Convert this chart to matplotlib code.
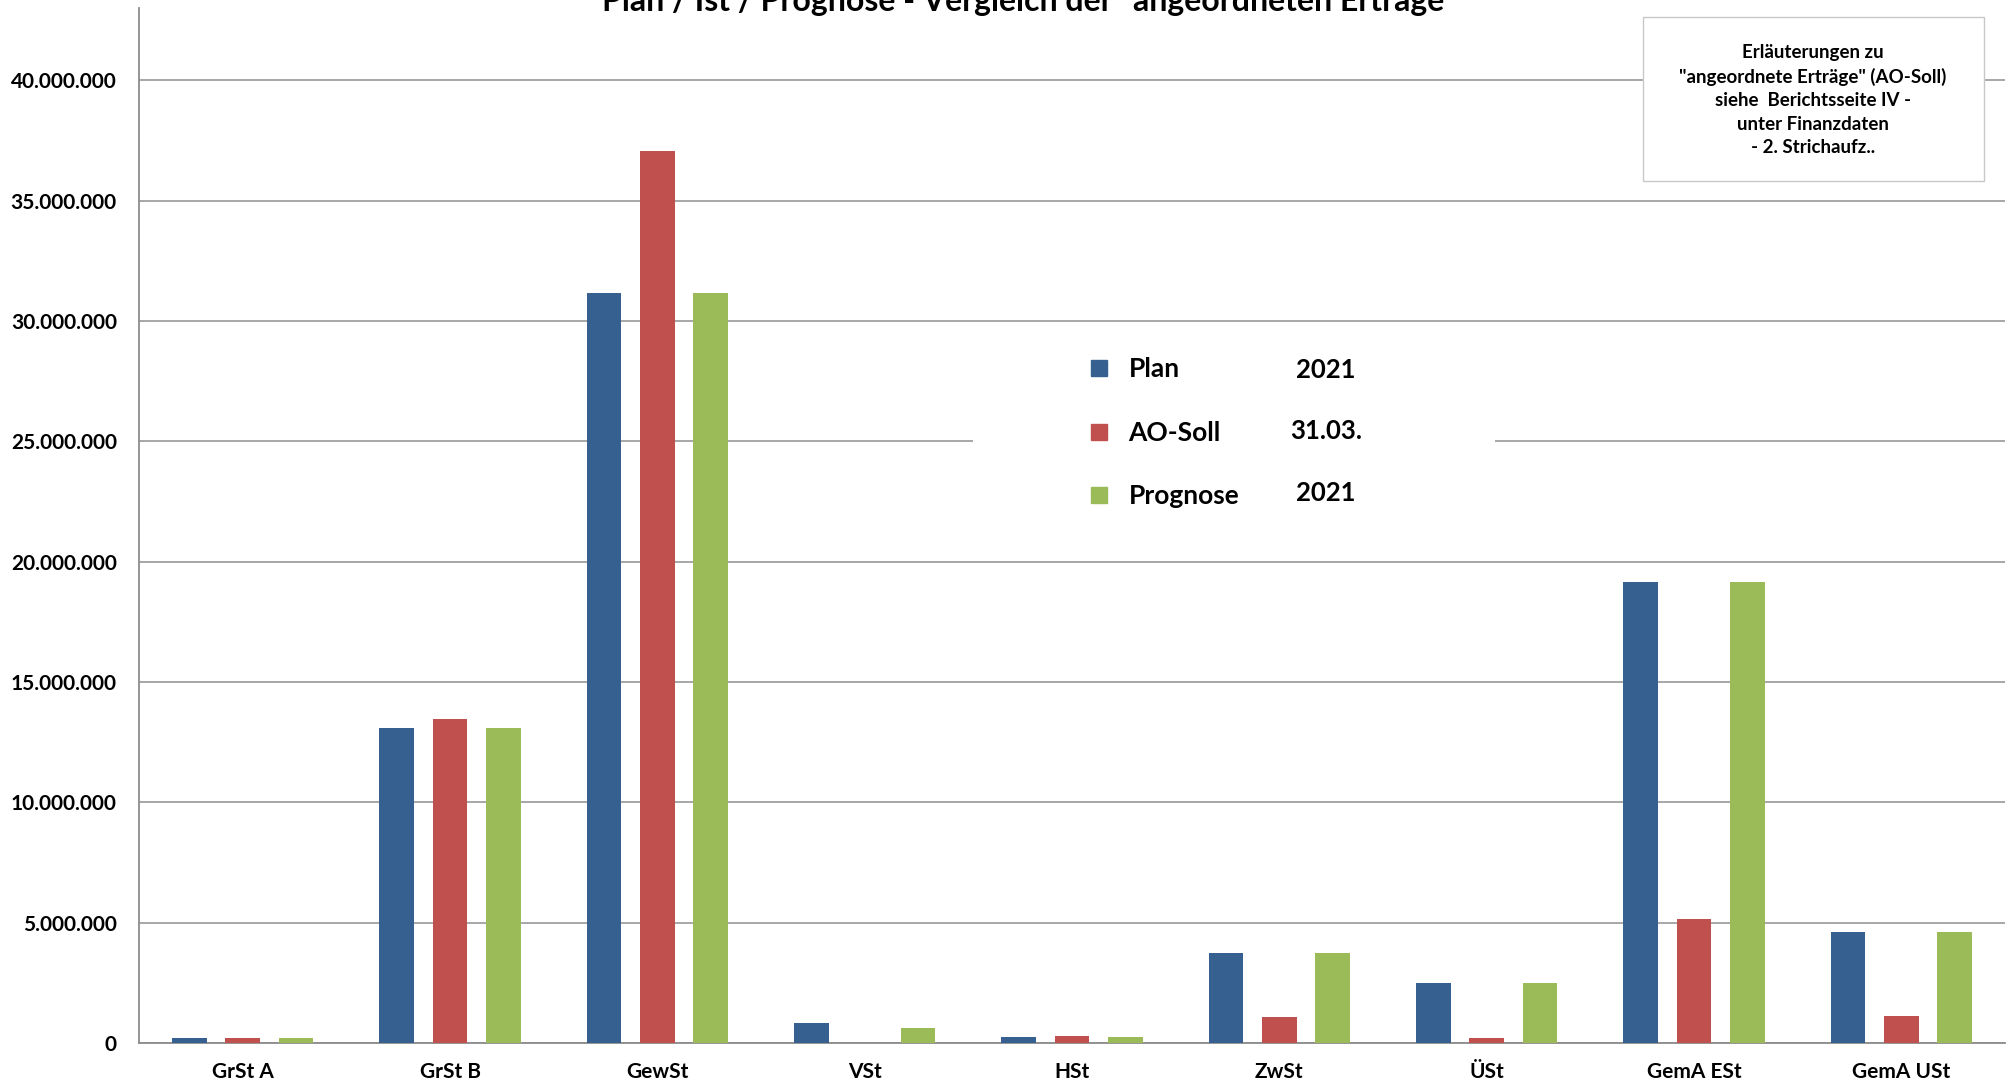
"""Plan / Ist / Prognose bar chart of the 'angeordnete Ertraege' per tax type."""
import matplotlib
matplotlib.use("Agg")
import matplotlib.pyplot as plt
from matplotlib.lines import Line2D
from matplotlib.patches import Rectangle
from matplotlib.ticker import FuncFormatter, MultipleLocator
import numpy as np

plt.rcParams["font.family"] = ["Lato", "DejaVu Sans"]
plt.rcParams["font.weight"] = "bold"

categories = ["GrSt A", "GrSt B", "GewSt", "VSt", "HSt", "ZwSt", "ÜSt", "GemA ESt", "GemA USt"]
plan = [220_000, 13_100_000, 31_150_000, 840_000, 260_000, 3_730_000, 2_490_000, 19_170_000, 4_630_000]
ao_soll = [220_000, 13_470_000, 37_060_000, 0, 280_000, 1_090_000, 210_000, 5_170_000, 1_130_000]
prognose = [220_000, 13_100_000, 31_150_000, 640_000, 250_000, 3_730_000, 2_500_000, 19_170_000, 4_630_000]

series_names = ["Plan", "AO-Soll", "Prognose"]
series_dates = ["2021", "31.03.", "2021"]
colors = ["#36608F", "#C0504E", "#9BBB59"]

title = 'Plan / Ist / Prognose - Vergleich der "angeordneten Erträge"'
note = ('Erläuterungen zu\n"angeordnete Erträge" (AO-Soll)\nsiehe  Berichtsseite IV -\n'
        'unter Finanzdaten\n- 2. Strichaufz..')

W, H = 2011, 1085
fig = plt.figure(figsize=(W / 100, H / 100), dpi=100)
ax = fig.add_axes([139 / W, 1 - 1043 / H, (2005 - 139) / W, (1043 - 8) / H])

x = np.arange(len(categories))
step, width = 0.257, 0.167
for i, (vals, col) in enumerate(zip([plan, ao_soll, prognose], colors)):
    ax.bar(x + (i - 1) * step, vals, width=width, color=col, zorder=3)

ax.set_xlim(-0.5, len(categories) - 0.5)
ax.set_ylim(0, 43_000_000)
ax.yaxis.set_major_locator(MultipleLocator(5_000_000))
ax.yaxis.set_major_formatter(FuncFormatter(lambda v, _: f"{int(v):,}".replace(",", ".")))
ax.set_xticks(x)
ax.set_xticklabels(categories, fontsize=15, fontweight="bold")
ax.tick_params(axis="y", length=0, pad=16, labelsize=15)
ax.tick_params(axis="x", length=0, pad=14)

ax.grid(axis="y", color="#a0a0a0", linewidth=1.3, zorder=0)
ax.set_axisbelow(True)
for side in ("top", "right"):
    ax.spines[side].set_visible(False)
for side in ("left", "bottom"):
    ax.spines[side].set_color("#8c8c8c")
    ax.spines[side].set_linewidth(1.3)

# white area behind the legend hides the gridline
ax.add_patch(Rectangle((973 / W, 1 - 532 / H), (1495 - 973) / W, (532 - 327) / H,
                       transform=fig.transFigure, facecolor="white",
                       edgecolor="none", zorder=1))

handles = [Line2D([], [], marker="s", linestyle="none", markersize=11.5,
                  markerfacecolor=c, markeredgecolor=c) for c in colors]
leg = ax.legend(handles, series_names, loc="upper left",
                bbox_to_anchor=(1073 / W, 1 - 344 / H), bbox_transform=fig.transFigure,
                frameon=False, prop={"size": 19, "weight": "bold"},
                handlelength=1.0, handletextpad=0.6, labelspacing=1.5, borderpad=0)
leg.set_zorder(5)
for row_y, d in zip([370, 431, 493], series_dates):
    fig.text(1326 / W, 1 - row_y / H, d, ha="center", va="center",
             fontsize=18.5, fontweight="bold", zorder=6)

fig.text(1029 / W, 1 - 11 / H, title, ha="center", va="baseline",
         fontsize=23, fontweight="bold")

# fixed-size box for the note
fig.patches.append(Rectangle((1643 / W, 1 - 181 / H), (1984 - 1643) / W, (181 - 17) / H,
                             transform=fig.transFigure, facecolor="white",
                             edgecolor="#c8c8c8", linewidth=1.0, zorder=2))
fig.text(1813 / W, 1 - 100 / H, note, ha="center", va="center", fontsize=13.5,
         fontweight="bold", linespacing=1.45, zorder=6)

fig.savefig("out.png", dpi=100)
